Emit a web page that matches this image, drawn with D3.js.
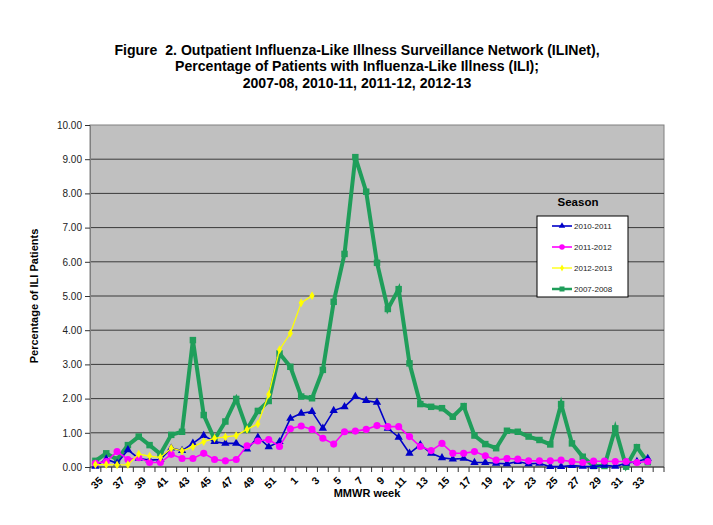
<!DOCTYPE html>
<html>
<head>
<meta charset="utf-8">
<script src="https://cdn.jsdelivr.net/npm/d3@7"></script>
<style>
  body { margin: 0; background: #fff; }
  svg { display: block; font-family: "Liberation Sans", Arial, sans-serif; }
</style>
</head>
<body>
<div id="chart"></div>
<script>
// MMWR weeks on the x axis (season runs wk 35 -> wk 34)
const weeks = ["35","36","37","38","39","40","41","42","43","44","45","46","47","48","49","50","51","52",
  "1","2","3","4","5","6","7","8","9","10","11","12","13","14","15","16","17","18","19","20",
  "21","22","23","24","25","26","27","28","29","30","31","32","33","34"];

const yTicks = [0, 1, 2, 3, 4, 5, 6, 7, 8, 9, 10];

const seasons = ["2010-2011", "2011-2012", "2012-2013", "2007-2008"];

// % ILI by week
const s1011 = [0.02,0.23,0.11,0.50,0.25,0.20,0.22,0.55,0.48,0.69,0.92,0.74,0.69,0.69,0.52,0.87,0.59,0.74,
  1.42,1.57,1.62,1.13,1.65,1.76,2.06,1.94,1.89,1.13,0.87,0.40,0.65,0.40,0.27,0.23,0.25,0.13,0.13,0.11,
  0.09,0.16,0.09,0.11,0.01,0.01,0.04,0.02,0.01,0.05,0.02,0.11,0.16,0.25];
const s1112 = [0.11,0.16,0.45,0.22,0.27,0.13,0.13,0.37,0.25,0.25,0.40,0.22,0.18,0.22,0.62,0.76,0.80,0.60,
  1.12,1.20,1.10,0.84,0.67,1.03,1.05,1.10,1.21,1.18,1.18,0.89,0.60,0.48,0.69,0.40,0.40,0.45,0.33,0.20,
  0.25,0.23,0.18,0.18,0.18,0.20,0.16,0.13,0.17,0.17,0.16,0.16,0.13,0.16];
const s1213 = [0.07,0.07,0.06,0.07,0.38,0.32,0.28,0.55,0.47,0.59,0.74,0.84,0.88,0.92,1.10,1.26,2.12,3.43,
  3.91,4.80,5.01];
const s0708 = [0.18,0.40,0.22,0.64,0.89,0.64,0.38,0.94,1.03,3.71,1.52,0.81,1.33,1.99,1.10,1.64,1.93,3.32,
  2.93,2.06,2.01,2.84,4.83,6.23,9.06,8.05,5.97,4.62,5.20,3.03,1.84,1.76,1.72,1.47,1.78,0.92,0.67,0.55,
  1.06,1.03,0.89,0.79,0.66,1.84,0.69,0.30,0.03,0.03,1.13,0.01,0.58,0.14];

const W = 713, H = 525;
const plot = {left: 90, right: 664, top: 125, bottom: 467};

const svg = d3.select("#chart").append("svg")
    .attr("width", W)
    .attr("height", H);

// title (no narrow font installed, so squeeze it a little)
const titleLines = [
  "Figure  2. Outpatient Influenza-Like Illness Surveillance Network (ILINet),",
  "Percentage of Patients with Influenza-Like Illness (ILI);",
  "2007-08, 2010-11, 2011-12, 2012-13"
];
svg.append("g")
    .attr("transform", "translate(357,0) scale(0.91,1)")
  .selectAll("text")
  .data(titleLines)
  .join("text")
    .attr("x", 0)
    .attr("y", (d, i) => 55 + i * 16.5)
    .attr("text-anchor", "middle")
    .style("white-space", "pre")
    .style("font-weight", "bold")
    .style("font-size", "15.5px")
    .text(d => d);

// scales: one extra empty slot after wk 34, like the original axis
const x = d3.scaleBand()
    .domain(d3.range(weeks.length + 1))
    .range([plot.left, plot.right])
    .padding(0);
const cx = i => x(i) + x.bandwidth() / 2;

const y = d3.scaleLinear()
    .domain([0, 10])
    .range([plot.bottom, plot.top]);

// plot area
svg.append("rect")
    .attr("x", plot.left)
    .attr("y", plot.top)
    .attr("width", plot.right - plot.left)
    .attr("height", plot.bottom - plot.top)
    .attr("fill", "#c0c0c0")
    .attr("stroke", "#808080");

// gridlines
svg.append("g").selectAll("line")
  .data(yTicks.slice(1, -1))
  .join("line")
    .attr("x1", plot.left)
    .attr("x2", plot.right)
    .attr("y1", d => y(d))
    .attr("y2", d => y(d))
    .attr("stroke", "#3a3a3a")
    .attr("stroke-width", 1);

// y axis
const yAxis = svg.append("g")
    .attr("transform", `translate(${plot.left},0)`)
    .call(d3.axisLeft(y).tickValues(yTicks).tickFormat(d3.format(".2f")).tickSize(5).tickPadding(3));
yAxis.select(".domain").attr("stroke", "#808080");
yAxis.selectAll(".tick line").attr("stroke", "#333");
yAxis.selectAll(".tick text")
    .style("font-size", "10px")
    .attr("fill", "#222");

svg.append("text")
    .attr("transform", `translate(38,${(plot.top + plot.bottom) / 2}) rotate(-90)`)
    .attr("text-anchor", "middle")
    .style("font-size", "11px")
    .style("font-weight", "bold")
    .text("Percentage of ILI Patients");

// x axis: ticks between categories, labels on every other week
const xb = svg.append("g");
xb.append("line")
    .attr("x1", plot.left).attr("x2", plot.right)
    .attr("y1", plot.bottom).attr("y2", plot.bottom)
    .attr("stroke", "#333");
xb.selectAll(".xtick")
  .data(d3.range(weeks.length + 2))
  .join("line")
    .attr("class", "xtick")
    .attr("x1", i => plot.left + i * x.bandwidth())
    .attr("x2", i => plot.left + i * x.bandwidth())
    .attr("y1", plot.bottom)
    .attr("y2", plot.bottom + 5)
    .attr("stroke", "#333");
xb.selectAll(".xlab")
  .data(weeks.map((w, i) => ({w, i})).filter(d => d.i % 2 === 0))
  .join("text")
    .attr("class", "xlab")
    .attr("transform", d => `translate(${cx(d.i) + 3},${plot.bottom + 9}) rotate(-45)`)
    .attr("text-anchor", "end")
    .attr("dy", "0.7em")
    .style("font-size", "10.5px")
    .style("font-weight", "bold")
    .text(d => d.w);

svg.append("text")
    .attr("x", 367)
    .attr("y", 497)
    .attr("text-anchor", "middle")
    .style("font-size", "11px")
    .style("font-weight", "bold")
    .text("MMWR week");

// series
const series = [
  {name: seasons[3], values: s0708, color: "#1f9e5a", width: 4, symbol: d3.symbolSquare, size: 42},
  {name: seasons[0], values: s1011, color: "#0000c8", width: 1.6, symbol: d3.symbolTriangle, size: 30},
  {name: seasons[1], values: s1112, color: "#ff00ff", width: 1.6, symbol: d3.symbolCircle, size: 40},
  {name: seasons[2], values: s1213, color: "#ffff00", width: 1.3, symbol: d3.symbolDiamond, size: 22}
];

const line = d3.line()
    .x((d, i) => cx(i))
    .y(d => y(d));

const sg = svg.append("g").selectAll("g")
  .data(series)
  .join("g");

sg.append("path")
    .attr("d", d => line(d.values))
    .attr("fill", "none")
    .attr("stroke", d => d.color)
    .attr("stroke-width", d => d.width)
    .attr("stroke-linejoin", "miter");

sg.each(function(s) {
  d3.select(this).selectAll("path.mk")
    .data(s.values)
    .join("path")
      .attr("class", "mk")
      .attr("transform", (d, i) => `translate(${cx(i)},${y(d)})`)
      .attr("d", d3.symbol(s.symbol, s.size))
      .attr("fill", s.color);
});

// legend
svg.append("text")
    .attr("x", 578)
    .attr("y", 206)
    .attr("text-anchor", "middle")
    .style("font-size", "11.5px")
    .style("font-weight", "bold")
    .text("Season");

const lg = svg.append("g").attr("transform", "translate(537,216)");
lg.append("rect")
    .attr("width", 91)
    .attr("height", 81)
    .attr("fill", "#fff")
    .attr("stroke", "#000");

const legendOrder = [series[1], series[2], series[3], series[0]];
const item = lg.selectAll("g.item")
  .data(legendOrder)
  .join("g")
    .attr("class", "item")
    .attr("transform", (d, i) => `translate(0,${10 + i * 21})`);
item.append("line")
    .attr("x1", 15).attr("x2", 35)
    .attr("stroke", d => d.color)
    .attr("stroke-width", d => Math.min(d.width, 2.5));
item.append("path")
    .attr("transform", "translate(25,0)")
    .attr("d", d => d3.symbol(d.symbol, d.size * 0.6)())
    .attr("fill", d => d.color);
item.append("text")
    .attr("x", 37)
    .attr("dy", "0.35em")
    .style("font-size", "8px")
    .attr("fill", "#222")
    .text(d => d.name);
</script>
</body>
</html>
